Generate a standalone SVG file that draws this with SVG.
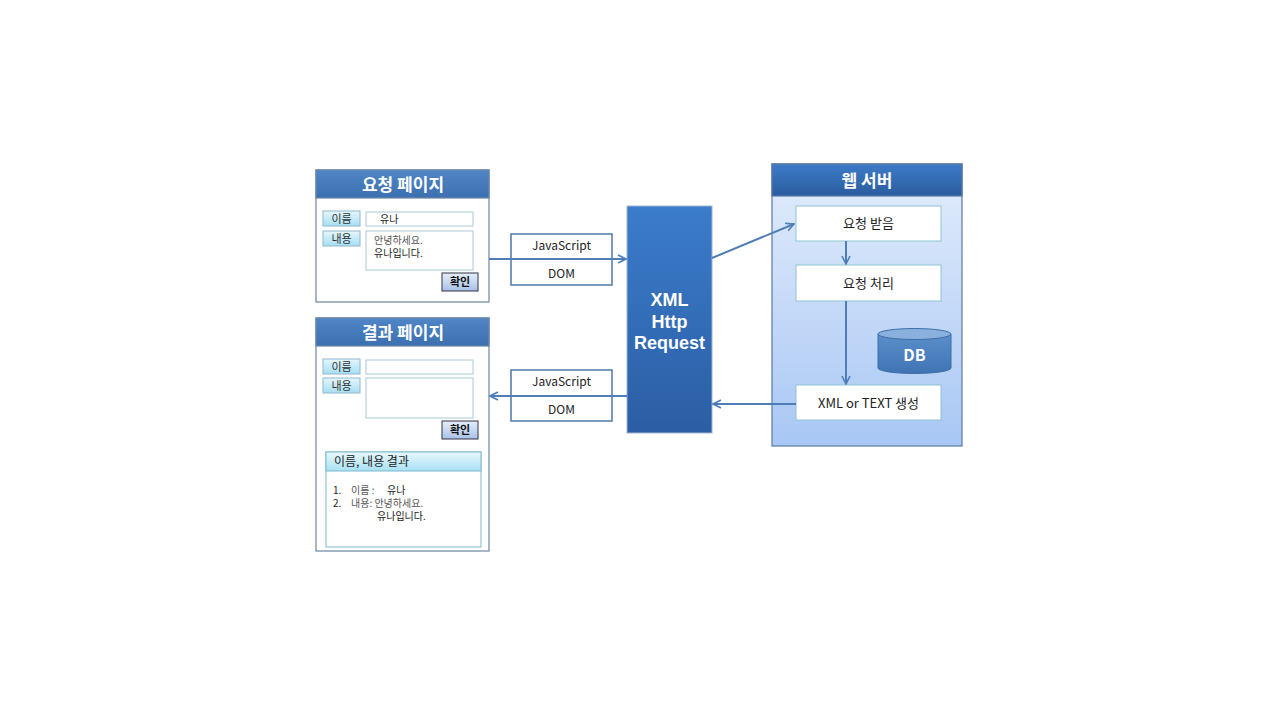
<svg xmlns="http://www.w3.org/2000/svg" width="1280" height="720" viewBox="0 0 1280 720">
<style>
text{font-family:"Noto Sans CJK KR","Noto Sans",sans-serif;}
.title{font-size:17px;font-weight:bold;fill:#fff;text-anchor:middle;}
.xhrt{font-family:"Liberation Sans","Noto Sans",sans-serif;font-size:18px;font-weight:bold;fill:#fff;text-anchor:middle;}
.btn{fill:url(#gBtn);stroke:#8fb8cf;stroke-width:1;}
.btnt{font-size:11px;fill:#333;text-anchor:middle;}
.inp{fill:#fff;stroke:#a9c9d6;stroke-width:1;}
.ok{fill:url(#gOk);stroke:#334;stroke-width:1;}
.okt{font-size:11px;font-weight:bold;fill:#111;text-anchor:middle;}
.small{font-size:10px;fill:#222;}
.grey{font-size:10px;fill:#555;}
.lbl{fill:#fff;stroke:#4f76a8;stroke-width:1.5;}
.lblt{font-size:12px;fill:#222;text-anchor:middle;}
.sbox{fill:#fff;stroke:#8fc3d3;stroke-width:1;}
.sboxt{font-size:13px;fill:#222;text-anchor:middle;}
.conn{fill:none;stroke:#4f7db5;stroke-width:2;}
.page{fill:#fff;stroke:#6b85a6;stroke-width:1.2;}
</style>
<defs>
<linearGradient id="gHead" x1="0" y1="0" x2="0" y2="1"><stop offset="0" stop-color="#4f86c6"/><stop offset="1" stop-color="#3b6fb0"/></linearGradient>
<linearGradient id="gSrvHead" x1="0" y1="0" x2="0" y2="1"><stop offset="0" stop-color="#3d7bc7"/><stop offset="1" stop-color="#2a5c9e"/></linearGradient>
<linearGradient id="gSrv" x1="0" y1="0" x2="0" y2="1"><stop offset="0" stop-color="#e3edfc"/><stop offset="1" stop-color="#a8c7f4"/></linearGradient>
<linearGradient id="gXhr" x1="0" y1="0" x2="0" y2="1"><stop offset="0" stop-color="#3b7ccb"/><stop offset="1" stop-color="#2b5ea4"/></linearGradient>
<linearGradient id="gBtn" x1="0" y1="0" x2="0" y2="1"><stop offset="0" stop-color="#e6f7fd"/><stop offset="1" stop-color="#a6def2"/></linearGradient>
<linearGradient id="gOk" x1="0" y1="0" x2="0" y2="1"><stop offset="0" stop-color="#e5eefb"/><stop offset="1" stop-color="#a9c1e6"/></linearGradient>
<linearGradient id="gRes" x1="0" y1="0" x2="0" y2="1"><stop offset="0" stop-color="#e8f8fd"/><stop offset="1" stop-color="#a8e0f3"/></linearGradient>
<linearGradient id="gDb" x1="0" y1="0" x2="0" y2="1"><stop offset="0" stop-color="#5b8fcb"/><stop offset="1" stop-color="#3f73b3"/></linearGradient>
<marker id="arr" viewBox="0 0 10 10" refX="9" refY="5" markerWidth="5" markerHeight="5" orient="auto" markerUnits="strokeWidth">
<path d="M1,1 L9,5 L1,9" fill="none" stroke="#4f7db5" stroke-width="1.6"/>
</marker>
</defs>
<rect width="1280" height="720" fill="#fff"/>

<g id="request-page">
<rect class="page" x="316" y="170" width="173" height="132"/>
<rect x="316" y="170" width="173" height="28" fill="url(#gHead)" stroke="#6b85a6" stroke-width="1.2"/>
<text class="title" x="403" y="191">요청 페이지</text>
<rect class="btn" x="323" y="211" width="37" height="15"/>
<text class="btnt" x="341.5" y="222.5">이름</text>
<rect class="inp" x="366" y="212" width="107" height="14"/>
<text class="small" x="380" y="222.5" font-size="11">유나</text>
<rect class="btn" x="323" y="231" width="37" height="15"/>
<text class="btnt" x="341.5" y="242.5">내용</text>
<rect class="inp" x="366" y="231" width="107" height="39"/>
<text class="grey" x="374" y="244">안녕하세요.</text>
<text class="small" x="374" y="257">유나입니다.</text>
<rect class="ok" x="442" y="273" width="36" height="18"/>
<text class="okt" x="460" y="286">확인</text>
</g>

<g id="result-page">
<rect class="page" x="316" y="318" width="173" height="233"/>
<rect x="316" y="318" width="173" height="28" fill="url(#gHead)" stroke="#6b85a6" stroke-width="1.2"/>
<text class="title" x="403" y="339">결과 페이지</text>
<rect class="btn" x="323" y="359" width="37" height="15"/>
<text class="btnt" x="341.5" y="370.5">이름</text>
<rect class="inp" x="366" y="360" width="107" height="14"/>
<rect class="btn" x="323" y="378" width="37" height="15"/>
<text class="btnt" x="341.5" y="389.5">내용</text>
<rect class="inp" x="366" y="378" width="107" height="40"/>
<rect class="ok" x="442" y="421" width="36" height="18"/>
<text class="okt" x="460" y="434">확인</text>
<rect x="326" y="452" width="155" height="95" fill="#fff" stroke="#7fb9cc" stroke-width="1"/>
<rect x="326" y="452" width="155" height="19" fill="url(#gRes)" stroke="#7fb9cc" stroke-width="1"/>
<text x="334" y="466" font-size="12" fill="#222">이름, 내용 결과</text>
<text class="small" x="333" y="494">1.</text>
<text class="grey" x="351" y="494">이름 :</text>
<text class="small" x="387" y="494" font-size="11">유나</text>
<text class="small" x="333" y="507">2.</text>
<text class="grey" x="351" y="507">내용: 안녕하세요.</text>
<text class="small" x="377" y="520">유나입니다.</text>
</g>

<g id="label-top">
<rect class="lbl" x="511" y="234" width="101" height="51"/>
<text class="lblt" x="561.5" y="250">JavaScript</text>
<text class="lblt" x="561.5" y="278">DOM</text>
</g>
<g id="label-bottom">
<rect class="lbl" x="511" y="370" width="101" height="51"/>
<text class="lblt" x="561.5" y="386">JavaScript</text>
<text class="lblt" x="561.5" y="414">DOM</text>
</g>

<g id="xhr">
<rect x="627" y="206" width="85" height="227" fill="url(#gXhr)" stroke="#9fb6d3" stroke-width="1"/>
<text class="xhrt" x="669.5" y="306">XML</text>
<text class="xhrt" x="669.5" y="328">Http</text>
<text class="xhrt" x="669.5" y="349">Request</text>
</g>

<g id="web-server">
<rect x="772" y="164" width="190" height="282" fill="url(#gSrv)" stroke="#5a78a6" stroke-width="1.2"/>
<rect x="772" y="164" width="190" height="32" fill="url(#gSrvHead)" stroke="#5a78a6" stroke-width="1.2"/>
<text class="title" x="867" y="187">웹 서버</text>
</g>
<g id="recv">
<rect class="sbox" x="796" y="206" width="145" height="35"/>
<text class="sboxt" x="868.5" y="228">요청 받음</text>
</g>
<g id="proc">
<rect class="sbox" x="796" y="265" width="145" height="36"/>
<text class="sboxt" x="868.5" y="288">요청 처리</text>
</g>
<g id="gen">
<rect class="sbox" x="796" y="385" width="145" height="35"/>
<text class="sboxt" x="868.5" y="408">XML or TEXT 생성</text>
</g>
<g id="db">
<path d="M878,334 L878,368 A36.5,5.5 0 0 0 951,368 L951,334" fill="url(#gDb)" stroke="#3f6ea8" stroke-width="1"/>
<ellipse cx="914.5" cy="334" rx="36.5" ry="5.5" fill="#8ab0de" stroke="#3f6ea8" stroke-width="1"/>
<text x="914.5" y="361" font-size="16" font-weight="bold" fill="#fff" text-anchor="middle">DB</text>
</g>

<g id="connectors">
<path class="conn" d="M489,259 L626,259" marker-end="url(#arr)"/>
<path class="conn" d="M627,396 L490,396" marker-end="url(#arr)"/>
<path class="conn" d="M712,258 L794,224" marker-end="url(#arr)"/>
<path class="conn" d="M846,241 L846,264" marker-end="url(#arr)"/>
<path class="conn" d="M846,301 L846,384" marker-end="url(#arr)"/>
<path class="conn" d="M796,404 L713,404" marker-end="url(#arr)"/>
</g>
</svg>
